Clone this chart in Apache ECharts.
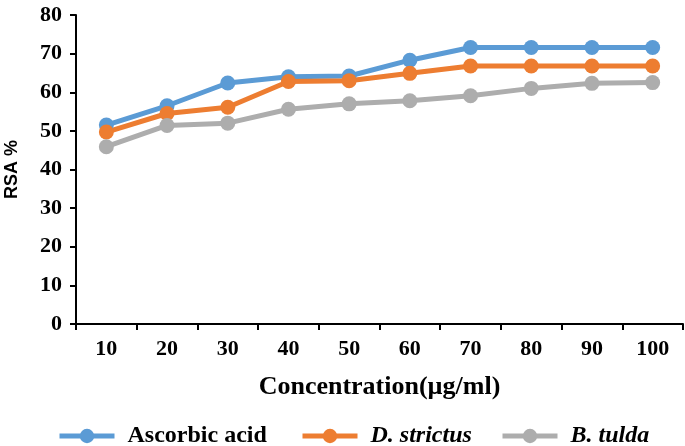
<!DOCTYPE html>
<html>
<head>
<meta charset="utf-8">
<script src="https://cdn.jsdelivr.net/npm/echarts@6/dist/echarts.min.js"></script>
<style>html,body{margin:0;padding:0;background:#fff;}#c{width:685px;height:446px;}</style>
</head>
<body>
<div id="c"></div>
<script>
var categories = ['10','20','30','40','50','60','70','80','90','100'];
var ascorbicAcid = [51.5, 56.5, 62.4, 64.0, 64.2, 68.3, 71.6, 71.6, 71.6, 71.6];
var dStrictus = [49.7, 54.5, 56.1, 62.8, 63.0, 64.9, 66.8, 66.8, 66.8, 66.8];
var bTulda = [45.9, 51.4, 52.0, 55.6, 57.0, 57.8, 59.1, 61.0, 62.3, 62.5];
var seriesNames = ['Ascorbic acid', 'D. strictus', 'B. tulda'];
var yTicks = {min: 0, max: 80, interval: 10};

var serif = '"Liberation Serif", "Times New Roman", serif';
var colors = ['#5B9BD5', '#ED7D31', '#ADADAD'];
var chart = echarts.init(document.getElementById('c'));
function mk(name, data, color) {
  return {
    name: name, type: 'line', data: data,
    symbol: 'circle', symbolSize: 15,
    lineStyle: {width: 5, color: color},
    itemStyle: {color: color},
    emphasis: {disabled: true}
  };
}
function lg(name, left, italic) {
  return {
    left: left, top: 419,
    itemWidth: 55, itemHeight: 18,
    lineStyle: {width: 5},
    data: [{name: name}],
    textStyle: {fontFamily: serif, fontWeight: 'bold', fontStyle: italic ? 'italic' : 'normal',
      fontSize: 24, color: '#000', padding: [0, 0, 0, 8]}
  };
}
chart.setOption({
  animation: false,
  backgroundColor: '#fff',
  grid: {left: 76, right: 2, top: 15, bottom: 122, containLabel: false, outerBoundsMode: 'none'},
  legend: [
    lg(seriesNames[0], 52, false),
    lg(seriesNames[1], 295, true),
    lg(seriesNames[2], 495, true)
  ],
  xAxis: {
    type: 'category', data: categories, boundaryGap: true,
    name: 'Concentration(\u00b5g/ml)', nameLocation: 'middle', nameGap: 50,
    nameTextStyle: {fontFamily: serif, fontWeight: 'bold', fontSize: 26, color: '#000'},
    axisLine: {lineStyle: {color: '#000', width: 2}},
    axisTick: {show: true, length: 6, lineStyle: {color: '#000', width: 2}},
    axisLabel: {fontFamily: serif, fontWeight: 'bold', fontSize: 22, color: '#000', margin: 14}
  },
  yAxis: {
    type: 'value', min: yTicks.min, max: yTicks.max, interval: yTicks.interval,
    name: 'RSA %', nameLocation: 'middle', nameGap: 55, nameRotate: 90,
    nameTextStyle: {fontFamily: '"Liberation Sans", Arial, sans-serif', fontWeight: 'bold', fontSize: 18, color: '#000'},
    axisLine: {show: true, lineStyle: {color: '#000', width: 2}},
    axisTick: {show: true, length: 6, lineStyle: {color: '#000', width: 2}},
    splitLine: {show: false},
    axisLabel: {fontFamily: serif, fontWeight: 'bold', fontSize: 22, color: '#000', margin: 14}
  },
  series: [
    mk(seriesNames[0], ascorbicAcid, colors[0]),
    mk(seriesNames[1], dStrictus, colors[1]),
    mk(seriesNames[2], bTulda, colors[2])
  ]
});
</script>
</body>
</html>
